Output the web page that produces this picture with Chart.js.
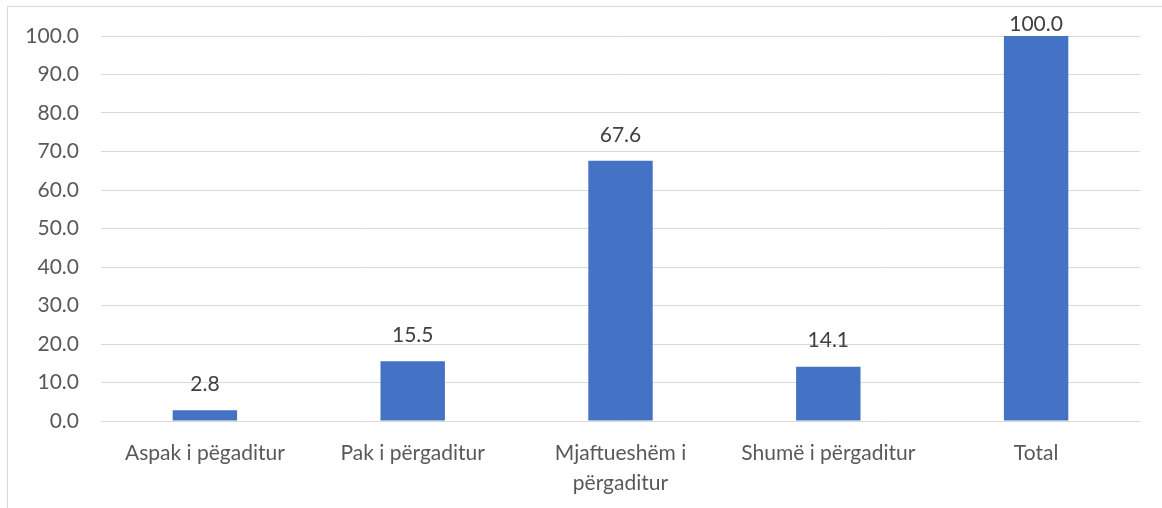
<!DOCTYPE html>
<html>
<head>
<meta charset="utf-8">
<script src="https://cdn.jsdelivr.net/npm/chart.js@4"></script>
<style>
  html, body { margin: 0; padding: 0; background: #fff; overflow: hidden; }
  #frame { position: absolute; left: 7px; top: 6px; width: 1200px; height: 560px; border: 1px solid #d9d9d9; }
  #wrap { position: absolute; left: 0; top: 0; width: 1162px; height: 508px; }
</style>
</head>
<body>
<div id="frame"></div>
<div id="wrap"><canvas id="chart" width="1162" height="508"></canvas></div>
<script>
const categories = ['Aspak i pëgaditur', 'Pak i përgaditur', ['Mjaftueshëm i', 'përgaditur'], 'Shumë i përgaditur', 'Total'];
const values = [2.8, 15.5, 67.6, 14.1, 100.0];
const yTicks = [0, 10, 20, 30, 40, 50, 60, 70, 80, 90, 100];

const FONT = 'Lato, "Open Sans", sans-serif';

// value labels above bars
const barLabels = {
  id: 'barLabels',
  afterDatasetsDraw(chart) {
    const ctx = chart.ctx;
    const meta = chart.getDatasetMeta(0);
    ctx.save();
    ctx.font = '21px ' + FONT;
    ctx.fillStyle = '#404040';
    ctx.textAlign = 'center';
    ctx.textBaseline = 'middle';
    meta.data.forEach(function (bar, i) {
      const y = Math.max(bar.y - 26, 24);
      ctx.fillText(values[i].toFixed(1), bar.x, y);
    });
    ctx.restore();
  }
};

new Chart(document.getElementById('chart'), {
  type: 'bar',
  data: {
    labels: categories,
    datasets: [{
      data: values,
      backgroundColor: '#4472c4',
      barPercentage: 0.62,
      categoryPercentage: 0.5
    }]
  },
  options: {
    responsive: false,
    animation: false,
    layout: { padding: { top: 36, right: 22, left: 0, bottom: 0 } },
    plugins: { legend: { display: false }, tooltip: { enabled: false } },
    scales: {
      y: {
        min: 0, max: 100,
        afterBuildTicks(scale) { scale.ticks = yTicks.map(v => ({ value: v })); },
        afterFit(scale) { scale.width = 101; },
        border: { display: false },
        grid: { color: '#d9d9d9', lineWidth: 1, drawTicks: false },
        ticks: {
          padding: 22,
          color: '#595959',
          font: { family: FONT, size: 21 },
          callback: v => v.toFixed(1)
        }
      },
      x: {
        afterFit(scale) { scale.height = 87; },
        border: { display: false },
        grid: { display: false, drawTicks: false },
        ticks: {
          padding: 18,
          color: '#595959',
          maxRotation: 0,
          autoSkip: false,
          font: { family: FONT, size: 21, lineHeight: 1.4 }
        }
      }
    }
  },
  plugins: [barLabels]
});
</script>
</body>
</html>
